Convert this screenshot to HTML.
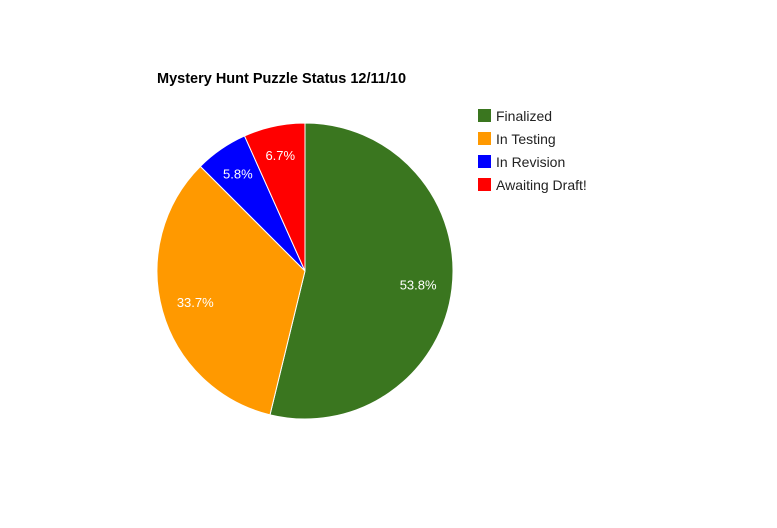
<!DOCTYPE html>
<html><head><meta charset="utf-8"><style>
html,body{margin:0;padding:0;background:#fff;}
svg{display:block;font-family:"Liberation Sans",Arial,sans-serif;}
</style></head><body>
<svg id="chart" width="777" height="528">
<text x="157" y="83" font-size="14.5" font-weight="bold" fill="#000">Mystery Hunt Puzzle Status 12/11/10</text>
<g id="slices"></g>
<g id="legend"></g>
</svg>
<script>
const categories = ["Finalized","In Testing","In Revision","Awaiting Draft!"];
const values = [53.8,33.7,5.8,6.7];
const colors = ["#3a761f","#ff9900","#0000ff","#ff0000"];
const labels = ["53.8%","33.7%","5.8%","6.7%"];

const NS="http://www.w3.org/2000/svg";
const cx=305, cy=271, r=148;
const total=values.reduce((a,b)=>a+b,0);
const sg=document.getElementById('slices');
let acc=0;
function pt(frac,rad){const a=frac*2*Math.PI;return [cx+rad*Math.sin(a),cy-rad*Math.cos(a)];}
values.forEach((v,i)=>{
  const f0=acc/total, f1=(acc+v)/total; acc+=v;
  const p0=pt(f0,r), p1=pt(f1,r);
  const large=(f1-f0)>0.5?1:0;
  const path=document.createElementNS(NS,'path');
  path.setAttribute('d',`M${cx},${cy} L${p0[0]},${p0[1]} A${r},${r} 0 ${large} 1 ${p1[0]},${p1[1]} Z`);
  path.setAttribute('fill',colors[i]);
  path.setAttribute('stroke','#fff');
  path.setAttribute('stroke-width','1');
  
  
  sg.appendChild(path);
  const k=(f1-f0)<0.1?0.8:0.77;
  const m=pt((f0+f1)/2,r*k);
  const t=document.createElementNS(NS,'text');
  t.setAttribute('x',m[0]);t.setAttribute('y',m[1]+5);
  t.setAttribute('text-anchor','middle');t.setAttribute('font-size','13');t.setAttribute('fill','#fff');
  t.textContent=labels[i];
  
  
  sg.appendChild(t);
});
const lg=document.getElementById('legend');
categories.forEach((c,i)=>{
  const g=document.createElementNS(NS,'g');
  
  
  const rc=document.createElementNS(NS,'rect');
  rc.setAttribute('x',478);rc.setAttribute('y',109+i*23);rc.setAttribute('width',13);rc.setAttribute('height',13);
  rc.setAttribute('fill',colors[i]);
  g.appendChild(rc);
  const t=document.createElementNS(NS,'text');
  t.setAttribute('x',496);t.setAttribute('y',121+i*23);t.setAttribute('font-size','14');t.setAttribute('fill','#222');
  t.textContent=c;
  g.appendChild(t);
  lg.appendChild(g);
});
</script>
</body></html>
